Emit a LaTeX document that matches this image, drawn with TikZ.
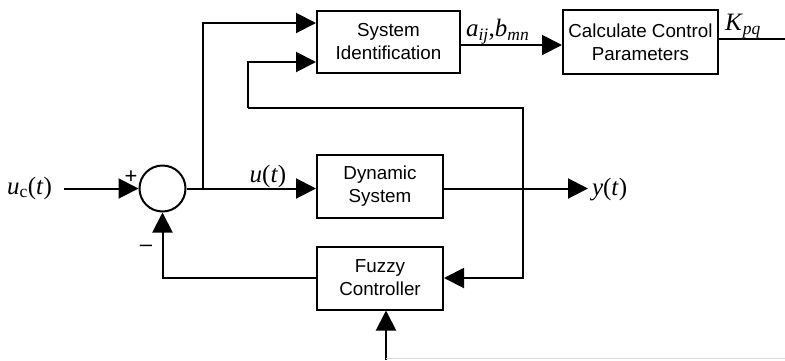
\documentclass[tikz,border=0pt]{standalone}
\usepackage{fontspec}
\setmainfont{Liberation Sans}
\newfontfamily\tms{Liberation Serif}
\usetikzlibrary{arrows.meta,calc}
\begin{document}
\begin{tikzpicture}[x=1pt,y=-1pt,
  line width=2pt,
  blk/.style={draw,line width=2pt,minimum width=#1,inner sep=0pt,align=center,
    font=\fontsize{18.8}{23}\selectfont},
  arr/.style={-{Triangle[length=20pt,width=20pt]}},
  lab/.style={font=\tms\fontsize{25}{28}\selectfont,inner sep=0pt},
  sgn/.style={font=\fontsize{22}{24}\selectfont,inner sep=0pt}]
\useasboundingbox (0,0) rectangle (785,360);
% blocks
\node[blk=143pt,minimum height=62pt] (sid) at (388.5,42) {System\\Identification};
\node[blk=155pt,minimum height=64pt] (calc) at (640.5,42) {Calculate Control\\Parameters};
\node[blk=126pt,minimum height=63pt] (dyn) at (380,186) {Dynamic\\System};
\node[blk=126pt,minimum height=63pt] (fuz) at (380,278) {Fuzzy\\Controller};
\node[draw,circle,line width=2pt,minimum size=46pt,inner sep=0pt] (sum) at (162.5,188.5) {};
% coordinates
\coordinate (in) at (64,188.5);
\coordinate (br) at (203,188.5);
\coordinate (kend) at (785,39);
\coordinate (yend) at (588,188.5);
\coordinate (fbx) at (523,108);
\coordinate (sidin2) at (248,108);
\coordinate (bot) at (386,360);
\coordinate (grayend) at (785,358.5);
% connectors
\draw[arr] (in) -- (sum.west);
\draw[arr] (sum.east) -- (dyn.west |- sum.east);
\draw[arr] (br) |- ($(sid.west)+(0,-19)$);
\draw[arr] (sidin2) |- ($(sid.west)+(0,20)$);
\draw[arr] (dyn.east |- sum.east) -- (yend);
\draw[arr] (sidin2) -| (fbx) |- (fuz.east);
\draw[arr] (fuz.west) -| (sum.south);
\draw[arr] ($(sid.east)+(0,3)$) -- ($(calc.west)+(0,3)$);
\draw ($(calc.east)+(0,-3)$) -- (kend);
\draw[arr] (bot) -- (bot |- fuz.south);
\draw[line width=1pt,black!15] (bot |- grayend) -- (grayend);
% labels
\node[lab,anchor=east] (uc) at (53,188) {\textit{u}\textsubscript{c}(\textit{t})};
\node[lab] (ut) at (268,176) {\textit{u}(\textit{t})};
\node[lab,anchor=west] (yt) at (591,190) {\textit{y}(\textit{t})};
\node[lab,anchor=west] (ab) at (465,32) {\textit{a}\textsubscript{\textit{ij}},\textit{b}\textsubscript{\textit{mn}}};
\node[lab,anchor=west] (kp) at (724,26) {\textit{K}\textsubscript{\textit{pq}}};
\node[sgn] (plus) at (131,177) {+};
\node[sgn] (minus) at (146,248) {\textendash};
\end{tikzpicture}
\end{document}
